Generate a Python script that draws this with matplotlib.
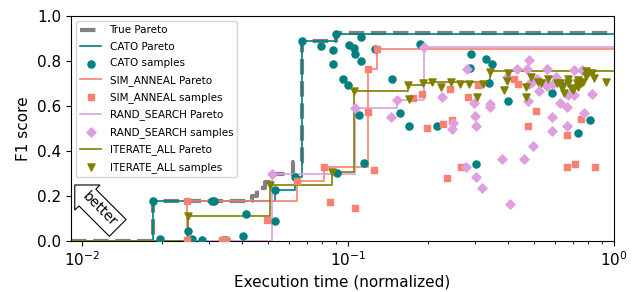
import numpy as np
import matplotlib
matplotlib.use('Agg')
import matplotlib.pyplot as plt

# Pareto fronts (step, post)
true_x = [0.0091, 0.0185, 0.0436, 0.0455, 0.0488, 0.0518, 0.0621, 0.0671, 0.0901, 1.0]
true_y = [0.0, 0.178, 0.20, 0.235, 0.26, 0.298, 0.35, 0.889, 0.925, 0.925]

cato_px = [0.0091, 0.0185, 0.0532, 0.0632, 0.0671, 0.0901, 1.0]
cato_py = [0.0, 0.178, 0.227, 0.284, 0.889, 0.92, 0.92]

sim_px = [0.0091, 0.0248, 0.0643, 0.0813, 0.1189, 0.1285, 1.0]
sim_py = [0.0, 0.178, 0.267, 0.329, 0.764, 0.853, 0.853]

rand_px = [0.0091, 0.0518, 0.1062, 0.1528, 0.1931, 1.0]
rand_py = [0.0, 0.298, 0.591, 0.627, 0.862, 0.862]

iter_px = [0.0091, 0.0250, 0.0509, 0.0871, 0.1053, 0.1681, 0.1914, 0.2069, 0.3419, 1.0]
iter_py = [0.0, 0.111, 0.249, 0.307, 0.667, 0.693, 0.702, 0.707, 0.756, 0.756]

# samples
cato_x = [0.0185, 0.0196, 0.0250, 0.0259, 0.0283, 0.0308, 0.0314, 0.0339, 0.0348, 0.0403,
          0.0414, 0.0532, 0.0532, 0.0632, 0.0909, 0.115, 0.0671, 0.0901, 0.112, 0.0791,
          0.0878, 0.1009, 0.1053, 0.1062, 0.112, 0.0878, 0.0958, 0.1, 0.1263, 0.110,
          0.1463, 0.1568, 0.1696, 0.2161, 0.1865, 0.2901, 0.2875, 0.3303, 0.3478, 0.3390,
          0.3995, 0.5846, 0.8124, 0.7321, 0.3029]
cato_y = [0.178, 0.009, 0.044, 0.009, 0.004, 0.178, 0.178, 0.004, 0.004, 0.022,
          0.12, 0.089, 0.227, 0.284, 0.302, 0.347, 0.889, 0.92, 0.907, 0.867,
          0.849, 0.871, 0.858, 0.831, 0.80, 0.787, 0.72, 0.693, 0.853, 0.56,
          0.72, 0.569, 0.511, 0.511, 0.876, 0.831, 0.769, 0.809, 0.787, 0.702,
          0.622, 0.658, 0.538, 0.48, 0.342]

sim_x = [0.0248, 0.0248, 0.0336, 0.0348, 0.0496, 0.0643, 0.0813, 0.0856, 0.1062, 0.1252,
         0.1189, 0.1189, 0.1285, 0.1756, 0.1897, 0.2417, 0.2826, 0.3082, 0.1982, 0.2276,
         0.2460, 0.2660, 0.2357, 0.4208, 0.4356, 0.5089, 0.4750, 0.7514, 0.6657, 0.6657,
         0.7136, 0.8483]
sim_y = [0.178, 0.004, 0.004, 0.004, 0.093, 0.267, 0.329, 0.173, 0.147, 0.316,
         0.573, 0.764, 0.853, 0.636, 0.653, 0.676, 0.64, 0.693, 0.502, 0.52,
         0.538, 0.329, 0.28, 0.72, 0.698, 0.578, 0.511, 0.542, 0.471, 0.329,
         0.342, 0.329]

rand_x = [0.0518, 0.1062, 0.1450, 0.1528, 0.1931, 0.2256, 0.2802, 0.2977, 0.3003, 0.3029,
          0.3419, 0.3419, 0.2481, 0.2460, 0.2777, 0.3029, 0.3190, 0.4064, 0.3793, 0.4588,
          0.4960, 0.4792, 0.4318, 0.4709, 0.5598, 0.3960, 0.5135, 0.4792, 0.5224, 0.4750,
          0.5846, 0.5846, 0.6053, 0.5598, 0.6266, 0.6657, 0.6716, 0.6657, 0.7075, 0.7581,
          0.7713, 0.8266, 0.7075, 0.4917, 0.5502, 0.5897]
rand_y = [0.298, 0.591, 0.551, 0.627, 0.862, 0.64, 0.764, 0.613, 0.556, 0.511,
          0.609, 0.596, 0.524, 0.498, 0.329, 0.284, 0.236, 0.164, 0.364, 0.364,
          0.422, 0.804, 0.764, 0.764, 0.764, 0.729, 0.72, 0.698, 0.667, 0.622,
          0.551, 0.489, 0.729, 0.689, 0.613, 0.596, 0.649, 0.511, 0.76, 0.76,
          0.569, 0.653, 0.649, 0.707, 0.698, 0.698]

iter_x = [0.0250, 0.0509, 0.0871, 0.1053, 0.1681, 0.1696, 0.1914, 0.2069, 0.2237, 0.2439,
          0.2637, 0.2850, 0.3055, 0.3218, 0.3419, 0.3859, 0.3995, 0.3960, 0.4668, 0.4668,
          0.4875, 0.5179, 0.5646, 0.6106, 0.6373, 0.6373, 0.6486, 0.6716, 0.6716, 0.6894,
          0.7015, 0.7321, 0.7321, 0.7514, 0.7848, 0.7848, 0.8409, 0.9330, 0.7646, 0.7987,
          0.8266, 0.5314, 0.6266, 0.7262]
iter_y = [0.111, 0.249, 0.307, 0.667, 0.693, 0.631, 0.702, 0.707, 0.684, 0.707,
          0.698, 0.698, 0.64, 0.698, 0.751, 0.671, 0.747, 0.711, 0.684, 0.64,
          0.729, 0.707, 0.72, 0.702, 0.689, 0.68, 0.658, 0.72, 0.702, 0.68,
          0.671, 0.684, 0.716, 0.702, 0.756, 0.733, 0.724, 0.707, 0.707, 0.747,
          0.747, 0.702, 0.702, 0.702]

fig = plt.figure(figsize=(6.36, 2.92), dpi=100)
ax = fig.add_axes([0.1116, 0.175, 0.8538, 0.770])

ax.step(true_x, true_y, where='post', color='gray', linestyle='--', lw=3, label='True Pareto')

ax.step(cato_px, cato_py, where='post', color='teal', lw=1.2, label='CATO Pareto')
ax.scatter(cato_x, cato_y, color='teal', marker='o', s=26, zorder=3, label='CATO samples')

ax.step(sim_px, sim_py, where='post', color='salmon', lw=1.2, label='SIM_ANNEAL Pareto')
ax.scatter(sim_x, sim_y, color='salmon', marker='s', s=24, zorder=3, label='SIM_ANNEAL samples')

ax.step(rand_px, rand_py, where='post', color='plum', lw=1.2, label='RAND_SEARCH Pareto')
ax.scatter(rand_x, rand_y, color='plum', marker='D', s=22, zorder=3, label='RAND_SEARCH samples')

ax.step(iter_px, iter_py, where='post', color='olive', lw=1.2, label='ITERATE_ALL Pareto')
ax.scatter(iter_x, iter_y, color='olive', marker='v', s=26, zorder=3, label='ITERATE_ALL samples')

ax.set_xscale('log')
ax.set_xlim(0.0091, 1.0)
ax.set_ylim(0, 1.0)
ax.set_yticks([0.0, 0.2, 0.4, 0.6, 0.8, 1.0])
ax.set_xlabel('Execution time (normalized)', fontsize=11)
ax.set_ylabel('F1 score', fontsize=11)
ax.tick_params(labelsize=11)

ax.text(0.052, 0.14, 'better', transform=ax.transAxes, rotation=-45,
        ha='center', va='center', fontsize=10,
        bbox=dict(boxstyle='larrow,pad=0.35', fc='white', ec='black', lw=0.8))

ax.legend(loc='upper left', fontsize=7.5, labelspacing=0.62)

fig.savefig('out.png', dpi=100)
